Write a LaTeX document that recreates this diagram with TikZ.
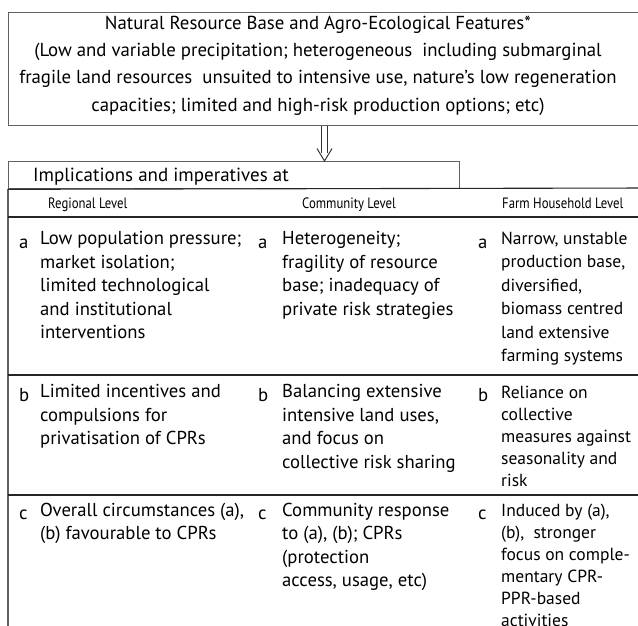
\documentclass[tikz,border=0pt]{standalone}
\usepackage{fontspec}
\setmainfont{PT Sans}
\newfontfamily\condfont[FakeStretch=0.85]{PT Sans}
\usetikzlibrary{calc}
\begin{document}
\begin{tikzpicture}[x=1pt,y=-1pt,
  frame/.style={draw=black!62, line width=1.3pt},
  rule/.style={draw=black!85, line width=1.1pt},
  arrowline/.style={draw=black!80, line width=1pt},
  cell/.style={anchor=north west, inner sep=0pt, align=left, font=\fontsize{18.7}{23.5}\selectfont, execute at begin node=\strut},
  cellr/.style={cell, font=\fontsize{17.5}{23.5}\selectfont},
  cellt/.style={cell, font=\fontsize{17.5}{22}\selectfont},
  lett/.style={anchor=base west, inner sep=0pt, font=\fontsize{18.7}{23.5}\selectfont},
  single/.style={anchor=base west, inner sep=0pt, font=\fontsize{19}{23.5}\selectfont},
  head/.style={anchor=base west, inner sep=0pt, font=\condfont\fontsize{15}{17}\selectfont}]
\path[use as bounding box] (0,0) rectangle (638,625);

% top box
\node[frame, anchor=north west, minimum width=640pt, minimum height=113pt, inner sep=0pt] (topbox) at (8,12) {};
\node[align=center, inner sep=0pt, anchor=north, font=\fontsize{18.8}{27.3}\selectfont, execute at begin node=\strut] (toptext) at (318,15.5)
 {Natural Resource Base and Agro-Ecological Features*\\
  (Low and variable precipitation; heterogeneous\ \ including submarginal\\
  fragile land resources\ \ unsuited to intensive use, nature's low regeneration\\
  capacities; limited and high-risk production options; etc)};

% implications box
\node[frame, anchor=north west, minimum width=451pt, minimum height=27pt, inner sep=0pt] (impbox) at (8,161) {};
\node[single] (imptext) at (33,181) {Implications and imperatives at};

% arrow
\coordinate (ax) at (324.5,0);
\path (topbox.south -| ax) coordinate (a1) (impbox.north -| ax) coordinate (a2);
\draw[arrowline] ([xshift=-2.8pt]a1) -- ([xshift=-2.8pt,yshift=8pt]a2);
\draw[arrowline] ([xshift=2.8pt]a1) -- ([xshift=2.8pt,yshift=8pt]a2);
\draw[arrowline, line join=miter] ([xshift=-7.5pt,yshift=12.5pt]a2) -- (a2) -- ([xshift=7.5pt,yshift=12.5pt]a2);

% table rules
\draw[frame] (impbox.south west) -- (8,632);
\draw[rule] (impbox.south west) -- (648,188);
\draw[rule] (8,217) -- (648,217);
\draw[rule] (8,375) -- (648,375);
\draw[rule] (8,495) -- (648,495);

% headers
\node[head] (h1) at (48,208) {Regional Level};
\node[head] (h2) at (302,208) {Community Level};
\node[head] (h3) at (502,208) {Farm Household Level};

% row a
\node[lett] (la1) at (19,248) {a};
\node[cell] (ta1) at (40,231.55) {Low population pressure;\\ market isolation;\\ limited technological\\ and institutional\\ interventions};
\node[lett] (la2) at (258,248) {a};
\node[cell] (ta2) at (282,231.55) {Heterogeneity;\\ fragility of resource\\ base; inadequacy of\\ private risk strategies};
\node[lett] (la3) at (478,248) {a};
\node[cellr] (ta3) at (501,231.55) {Narrow, unstable\\ production base,\\ diversified,\\ biomass centred\\ land extensive\\ farming systems};

% row b
\node[lett] (lb1) at (19,401) {b};
\node[cell] (tb1) at (40,384.55) {Limited incentives and\\ compulsions for\\ privatisation of CPRs};
\node[lett] (lb2) at (258,401) {b};
\node[cell] (tb2) at (282,384.55) {Balancing extensive\\ intensive land uses,\\ and focus on\\ collective risk sharing};
\node[lett] (lb3) at (478,401) {b};
\node[cellt] (tb3) at (501,385.6) {Reliance on\\ collective\\ measures against\\ seasonality and\\ risk};

% row c
\node[lett] (lc1) at (19,519) {c};
\node[cell] (tc1) at (40,502.55) {Overall circumstances (a),\\ (b) favourable to CPRs};
\node[lett] (lc2) at (258,519) {c};
\node[cell] (tc2) at (282,502.55) {Community response\\ to (a), (b); CPRs\\ (protection\\ access, usage, etc)};
\node[lett] (lc3) at (478,519) {c};
\node[cellt] (tc3) at (501,503.6) {Induced by (a),\\ (b),\ \ stronger\\ focus on comple-\\ mentary CPR-\\ PPR-based\\ activities};
\end{tikzpicture}
\end{document}
